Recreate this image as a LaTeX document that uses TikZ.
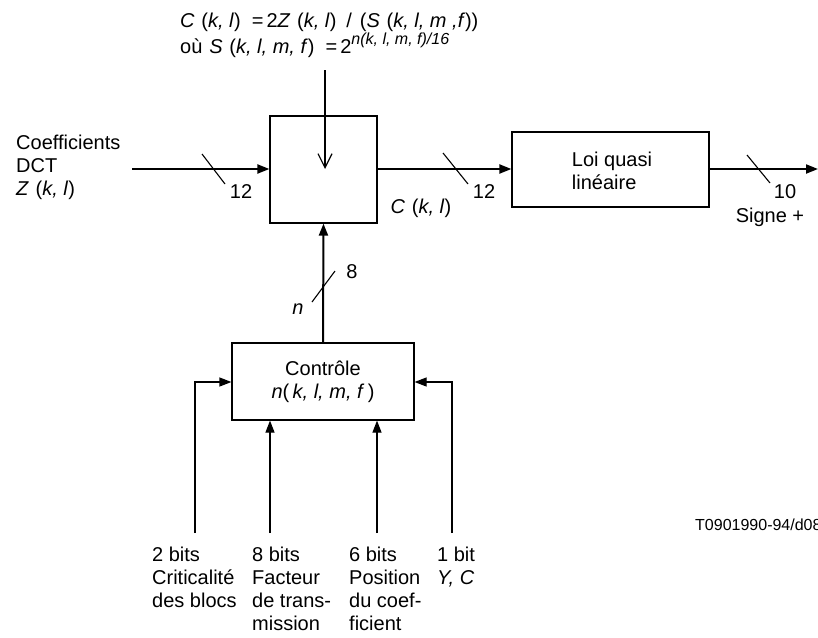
\documentclass[tikz,border=0pt]{standalone}
\usepackage{fontspec}
\setmainfont{Liberation Sans}
\usetikzlibrary{arrows.meta}
\begin{document}
\begin{tikzpicture}[x=1pt,y=-1pt,
  txt/.style={inner sep=0pt, font=\fontsize{20}{23}\selectfont},
  blk/.style={draw, line width=1.2pt, inner sep=0pt, minimum width=#1},
  bus/.style={line width=2pt},
  thin/.style={line width=1.2pt},
  tip/.style={-{Triangle[length=12pt,width=9pt]}},
  vtip/.style={-{Straight Barb[length=14pt,width=14pt,line width=1.2pt]}},
  slash/.style={line width=1.1pt}]
\useasboundingbox (0,0) rectangle (818,637);

% blocks
\node[blk=107pt, minimum height=107pt] (quant) at (323.5,169.5) {};
\node[blk=197pt, minimum height=75pt] (loi) at (610.5,169.5) {};
\node[txt, align=left] (loitxt) at (612,171) {Loi quasi\\lin\'eaire};
\node[blk=182pt, minimum height=77pt, txt, align=center] (ctrl) at (323,381.5)
  {Contr\^ole\\\textit{n}(\,\textit{k, l, m, f}\,)};

% formula above the quantiser
\node[txt, anchor=west] (eq1) at (180,22)
  {\textit{C}\,\,(\textit{k, l})\ \ =\hspace{3pt}2\textit{Z}\,\,(\textit{k, l})\hspace{10pt}/\hspace{8pt}(\textit{S}\,\,(\textit{k, l, m ,f}))};
\node[txt, anchor=west] (eq2) at (180,45)
  {o\`u\hspace{7pt}\textit{S}\,\,(\textit{k, l, m, f})\ \ =\hspace{3pt}2\raisebox{0.45em}{\fontsize{16}{17}\selectfont\itshape n(k, l, m, f)/16}};

% main signal path
\coordinate (in) at (132,169);
\coordinate (out) at (818,169);
\coordinate (top) at (325,70);
\coordinate (mid) at (325,169);
\draw[bus, tip] (in) -- (quant.west |- in);
\draw[bus, tip] (quant.east |- in) -- (loi.west |- in);
\draw[bus, tip] (loi.east |- in) -- (out);
\draw[bus, vtip] (top) -- (mid);
\draw[bus, tip] (ctrl.north) -- (quant.south);

% bus width marks
\draw[slash] (202,154) -- (225,184);
\draw[slash] (443,153) -- (468,184);
\draw[slash] (747,155) -- (770,183);
\draw[slash] (312,302) -- (335,271);

% input and output labels
\node[txt, anchor=west, align=left] (dct) at (16,167.5)
  {Coefficients\\DCT\\\textit{Z}\,\,(\textit{k, l})};
\node[txt] (w1) at (241,192) {12};
\node[txt] (w2) at (484,192) {12};
\node[txt] (w3) at (785,192) {10};
\node[txt] (sg) at (770,217) {Signe +};
\node[txt] (ckl) at (421,208) {\textit{C}\,\,(\textit{k, l})};
\node[txt] (w4) at (352,272) {8};
\node[txt] (nn) at (298,309) {\textit{n}};

% control inputs
\coordinate (a) at (195,533);
\coordinate (b) at (270,533);
\coordinate (c) at (377,533);
\coordinate (d) at (452,533);
\draw[thin, tip] (a) |- (ctrl.west |- 0,382);
\draw[thin, tip] (b) -- (b |- ctrl.south);
\draw[thin, tip] (c) -- (c |- ctrl.south);
\draw[thin, tip] (d) |- (ctrl.east |- 0,382);

\node[txt, anchor=north west, align=left] (l1) at (152,547)
  {2 bits\\Criticalit\'e\\des blocs};
\node[txt, anchor=north west, align=left] (l2) at (252,547)
  {8 bits\\Facteur\\de trans-\\mission};
\node[txt, anchor=north west, align=left] (l3) at (349,547)
  {6 bits\\Position\\du coef-\\ficient};
\node[txt, anchor=north west, align=left] (l4) at (437,547)
  {1 bit\\\textit{Y, C}};

\node[inner sep=0pt, anchor=west, font=\fontsize{16}{18}\selectfont] (ref) at (695,525) {T0901990-94/d08};
\end{tikzpicture}
\end{document}
